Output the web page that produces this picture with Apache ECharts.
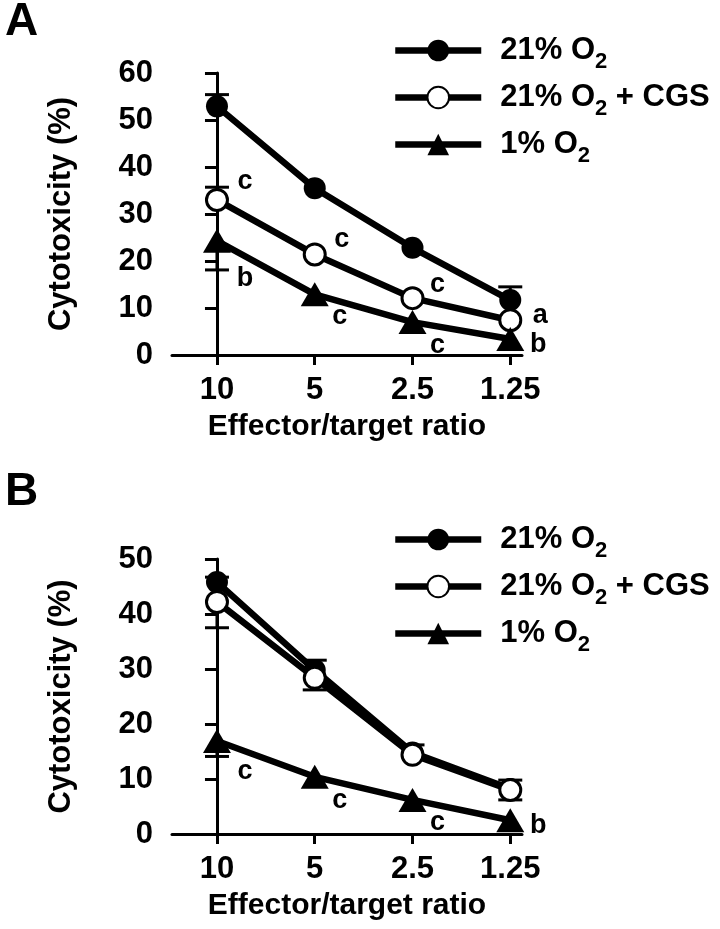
<!DOCTYPE html>
<html>
<head>
<meta charset="utf-8">
<script src="https://cdn.jsdelivr.net/npm/echarts@6/dist/echarts.min.js"></script>
<style>html,body{margin:0;padding:0;background:#fff}#c{width:720px;height:929px}</style>
</head>
<body>
<div id="c"></div>
<script>
// ---- data ----
var categories = ['10', '5', '2.5', '1.25'];
var seriesNames = ['21% O2', '21% O2 + CGS', '1% O2'];

// Panel A
var A_o2 = [52.9, 35.5, 22.8, 11.7];
var A_o2_err = [2.5, 0, 0, 2.8];       // + = bar drawn upward, - = downward, 0 = hidden by marker
var A_cgs = [33.0, 21.4, 12.1, 7.4];
var A_cgs_err = [2.7, 0, 0, 0];
var A_hyp = [24.3, 12.9, 7.0, 3.4];
var A_hyp_err = [-6.2, 0, 0, 0];
var A_cgs_sig = ['c', 'c', 'c', 'a'];
var A_hyp_sig = ['b', 'c', 'c', 'b'];

// Panel B
var B_o2 = [45.8, 29.8, 14.8, 8.2];
var B_o2_err = [0.9, 1.8, 1.4, 1.6];
var B_cgs = [42.2, 28.4, 14.4, 8.0];
var B_cgs_err = [-4.7, -2.2, 0, -1.8];
var B_hyp = [16.9, 10.4, 6.2, 2.5];
var B_hyp_err = [-2.8, 0, 0, 0];
var B_hyp_sig = ['c', 'c', 'c', 'b'];

var yTicksA = [0, 10, 20, 30, 40, 50, 60];
var yTicksB = [0, 10, 20, 30, 40, 50];

// ---- styles ----
var FONT = 'Liberation Sans, Arial, Helvetica, sans-serif';
var K = '#000';
var LW = 6.5;

function xAxisCfg(gi) {
  return {
    gridIndex: gi, type: 'value', min: -0.46, max: 3.12,
    name: 'Effector/target ratio', nameLocation: 'middle', nameGap: 57,
    nameTextStyle: {fontFamily: FONT, fontWeight: 'bold', fontSize: 30, color: K},
    axisLine: {show: true, onZero: false, lineStyle: {color: K, width: 3}},
    axisTick: {show: true, length: 10, lineStyle: {color: K, width: 3}, customValues: [0, 1, 2, 3]},
    axisLabel: {customValues: [0, 1, 2, 3], margin: 20, fontFamily: FONT, fontWeight: 'bold', fontSize: 31, color: K,
      formatter: function (v) { return categories[Math.round(v)]; }},
    splitLine: {show: false}
  };
}
function yAxisCfg(gi, ticks) {
  return {
    gridIndex: gi, type: 'value', min: ticks[0], max: ticks[ticks.length - 1], interval: ticks[1] - ticks[0],
    name: 'Cytotoxicity (%)', nameLocation: 'middle', nameGap: 95, nameRotate: 90,
    nameTextStyle: {fontFamily: FONT, fontWeight: 'bold', fontSize: 31, color: K},
    axisLine: {show: true, lineStyle: {color: K, width: 3}},
    axisTick: {show: true, length: 12, lineStyle: {color: K, width: 3}},
    axisLabel: {margin: 19, fontFamily: FONT, fontWeight: 'bold', fontSize: 31, color: K},
    splitLine: {show: false}
  };
}

function pts(vals) { return vals.map(function (v, i) { return [i, v]; }); }

function errSeries(gi, vals, errs) {
  return {
    type: 'custom', xAxisIndex: gi, yAxisIndex: gi, z: 1, silent: true,
    data: vals.map(function (v, i) { return [i, v, v + errs[i]]; }),
    renderItem: function (params, api) {
      if (api.value(2) === api.value(1)) return null;
      var p0 = api.coord([api.value(0), api.value(1)]);
      var p1 = api.coord([api.value(0), api.value(2)]);
      var hw = 12;
      return {
        type: 'group', children: [
          {type: 'line', shape: {x1: p0[0], y1: p0[1], x2: p1[0], y2: p1[1]}, style: {stroke: K, lineWidth: 3}},
          {type: 'line', shape: {x1: p1[0] - hw, y1: p1[1], x2: p1[0] + hw, y2: p1[1]}, style: {stroke: K, lineWidth: 3}}
        ]
      };
    }
  };
}

var symStyle = {
  '21% O2': {symbol: 'circle', symbolSize: 22, itemStyle: {color: K, borderColor: K, borderWidth: 0}},
  '21% O2 + CGS': {symbol: 'circle', symbolSize: 21, itemStyle: {color: '#fff', borderColor: K, borderWidth: 3}},
  '1% O2': {symbol: 'triangle', symbolSize: [28, 24], itemStyle: {color: K, borderColor: K, borderWidth: 0}}
};

function lineSeries(gi, name, vals, sig, offsets) {
  var s = symStyle[name];
  var data = pts(vals).map(function (p, i) {
    var d = {value: p};
    if (sig) {
      d.label = {show: true, formatter: sig[i], position: 'inside', offset: offsets[i]};
    }
    return d;
  });
  return {
    type: 'line', name: name, xAxisIndex: gi, yAxisIndex: gi, z: 3,
    symbol: s.symbol, symbolSize: s.symbolSize, showAllSymbol: true,
    itemStyle: s.itemStyle, lineStyle: {color: K, width: LW},
    label: {show: false, fontFamily: FONT, fontWeight: 'bold', fontSize: 27, color: K},
    emphasis: {disabled: true},
    data: data
  };
}

var offA_cgs = [[28, -18], [27, -15], [25, -14], [30, -5]];
var offA_hyp = [[28, 38], [25, 22], [25, 23], [28, 6]];
var offB_hyp = [[28, 30], [25, 24], [25, 23], [28, 5]];

function legendCfg(name, top) {
  return {
    data: [name], left: 392, top: top, orient: 'vertical', padding: 0,
    itemWidth: 86, itemHeight: 27, selectedMode: false,
    lineStyle: {width: LW},
    textStyle: {fontFamily: FONT, fontWeight: 'bold', fontSize: 31, color: K, padding: [0, 0, 0, 14],
      rich: {
        n: {fontFamily: FONT, fontWeight: 'bold', fontSize: 31, color: K, lineHeight: 31},
        s: {fontFamily: FONT, fontWeight: 'bold', fontSize: 22, color: K, lineHeight: 44, verticalAlign: 'bottom'}
      }},
    formatter: function (n) {
      var parts = n.split('O2');
      return '{n|' + parts[0] + 'O}{s|2}' + (parts[1] ? '{n|' + parts[1] + '}' : '');
    }
  };
}

var legendRowsA = [35, 82, 129];
var legendRowsB = [524, 571, 618];
var legends = [];
seriesNames.forEach(function (n, i) {
  legends.push(legendCfg(n, legendRowsA[i]));
  legends.push(legendCfg(n, legendRowsB[i]));
});

var option = {
  animation: false,
  backgroundColor: '#fff',
  title: [
    {text: 'A', left: 5, top: -1, padding: 0, textStyle: {fontFamily: FONT, fontWeight: 'bold', fontSize: 46, color: K}},
    {text: 'B', left: 5, top: 469, padding: 0, textStyle: {fontFamily: FONT, fontWeight: 'bold', fontSize: 46, color: K}}
  ],
  legend: legends,
  grid: [
    {left: 172, top: 73, width: 350, height: 282},
    {left: 172, top: 559, width: 350, height: 275}
  ],
  xAxis: [xAxisCfg(0), xAxisCfg(1)],
  yAxis: [yAxisCfg(0, yTicksA), yAxisCfg(1, yTicksB)],
  series: [
    errSeries(0, A_o2, A_o2_err),
    errSeries(0, A_cgs, A_cgs_err),
    errSeries(0, A_hyp, A_hyp_err),
    lineSeries(0, '21% O2', A_o2),
    lineSeries(0, '21% O2 + CGS', A_cgs, A_cgs_sig, offA_cgs),
    lineSeries(0, '1% O2', A_hyp, A_hyp_sig, offA_hyp),
    errSeries(1, B_o2, B_o2_err),
    errSeries(1, B_cgs, B_cgs_err),
    errSeries(1, B_hyp, B_hyp_err),
    lineSeries(1, '21% O2', B_o2),
    lineSeries(1, '21% O2 + CGS', B_cgs),
    lineSeries(1, '1% O2', B_hyp, B_hyp_sig, offB_hyp)
  ]
};

var chart = echarts.init(document.getElementById('c'), null, {renderer: 'canvas'});
chart.setOption(option);
</script>
</body>
</html>
